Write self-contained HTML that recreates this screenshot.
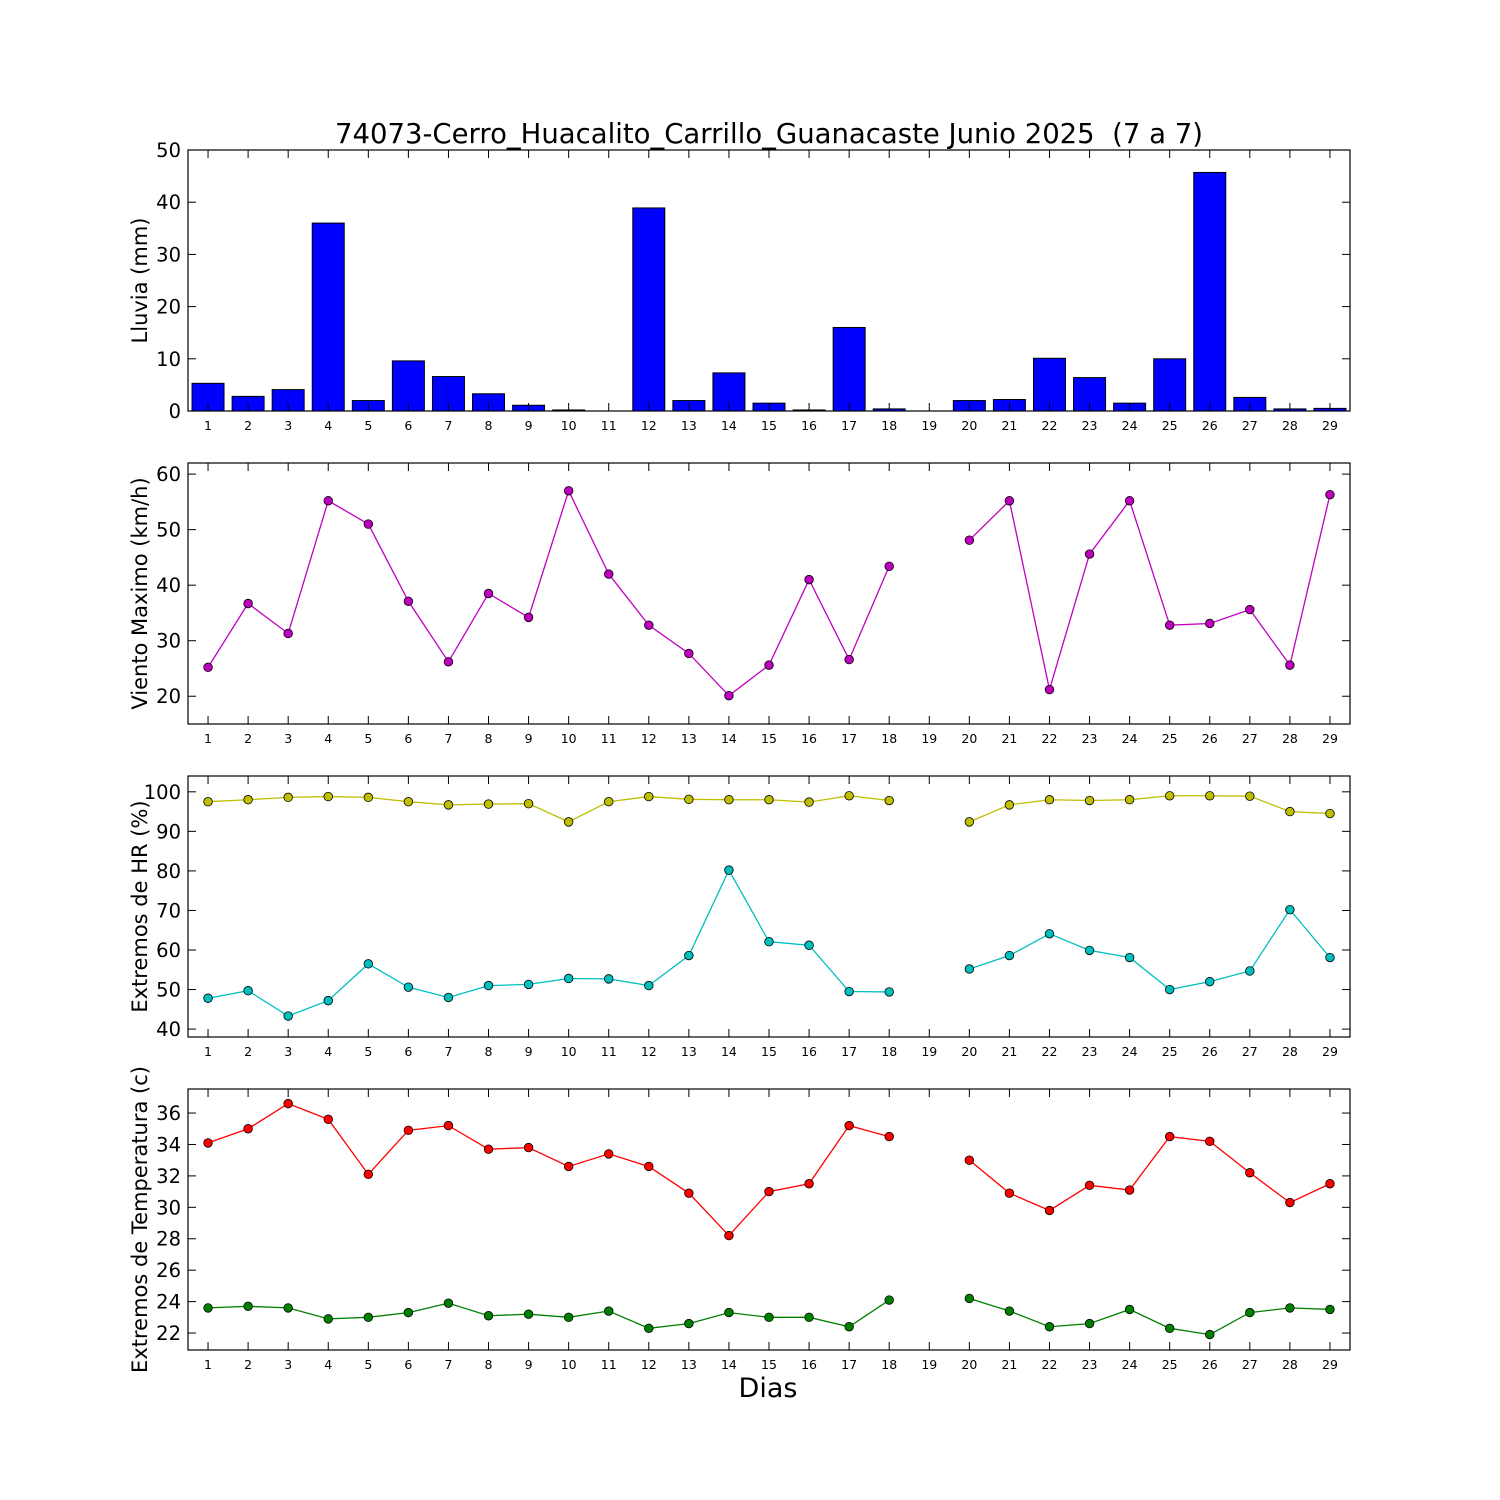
<!DOCTYPE html>
<html><head><meta charset="utf-8"><style>
body{margin:0;background:#fff}
svg{display:block;font-family:"DejaVu Sans","Liberation Sans",sans-serif}
text{white-space:pre}
</style></head><body>
<svg id="chart" width="1500" height="1500" viewBox="0 0 1500 1500" xmlns="http://www.w3.org/2000/svg">
<rect width="1500" height="1500" fill="#fff"/>
<text x="769" y="143" font-size="27.5" text-anchor="middle" xml:space="preserve">74073-Cerro_Huacalito_Carrillo_Guanacaste Junio 2025  (7 a 7)</text>
<text x="768" y="1397" font-size="27" text-anchor="middle">Dias</text>
</svg>
<script>
const days = [1,2,3,4,5,6,7,8,9,10,11,12,13,14,15,16,17,18,19,20,21,22,23,24,25,26,27,28,29];
const rain = [5.3,2.8,4.1,36,2,9.6,6.6,3.3,1.1,0.2,0,38.9,2,7.3,1.5,0.2,16,0.4,null,2,2.2,10.1,6.4,1.5,10,45.7,2.6,0.4,0.5];
const wind = [25.2,36.7,31.3,55.2,51,37.1,26.2,38.5,34.2,57,42,32.8,27.7,20.1,25.6,41,26.6,43.4,null,48.1,55.2,21.2,45.6,55.2,32.8,33.1,35.6,25.6,56.3];
const hrMax = [97.5,98,98.6,98.8,98.6,97.5,96.7,96.9,97,92.4,97.5,98.8,98.1,98,98,97.4,99,97.8,null,92.4,96.7,98,97.8,98,99,99,98.9,95,94.5];
const hrMin = [47.8,49.7,43.3,47.2,56.5,50.6,48,51,51.3,52.8,52.7,51,58.6,80.2,62.1,61.2,49.5,49.4,null,55.2,58.6,64.1,59.9,58.1,50,52,54.7,70.2,58.1];
const tMax = [34.1,35.0,36.6,35.6,32.1,34.9,35.2,33.7,33.8,32.6,33.4,32.6,30.9,28.2,31.0,31.5,35.2,34.5,null,33.0,30.9,29.8,31.4,31.1,34.5,34.2,32.2,30.3,31.5];
const tMin = [23.6,23.7,23.6,22.9,23.0,23.3,23.9,23.1,23.2,23.0,23.4,22.3,22.6,23.3,23.0,23.0,22.4,24.1,null,24.2,23.4,22.4,22.6,23.5,22.3,21.9,23.3,23.6,23.5];
const rainTicks = [0,10,20,30,40,50];
const windTicks = [20,30,40,50,60];
const hrTicks = [40,50,60,70,80,90,100];
const tTicks = [22,24,26,28,30,32,34,36];

const NS='http://www.w3.org/2000/svg';
const svg=document.getElementById('chart');
function mk(tag,attrs,parent){const e=document.createElementNS(NS,tag);for(const k in attrs)e.setAttribute(k,attrs[k]);(parent||svg).appendChild(e);return e;}
const X0=188,X1=1350;
function xs(d){return X0+(d-0.5)*(X1-X0)/29;}

function panel(name,top,ymin,ymax,ticks,label){
  const bot=top+261;
  const ys=v=>bot-(v-ymin)*(bot-top)/(ymax-ymin);
  const g=mk('g',{});
  
  
  return {g,ys,top,bot,ticks,label,name};
}
function frame(p){
  const {g,ys,top,bot}=p;
  const r=mk('rect',{x:X0,y:top,width:X1-X0,height:bot-top,fill:'none',stroke:'#000','stroke-width':1.2},g);
  
  
  p.ticks.forEach(t=>{
    const y=ys(t);
    mk('line',{x1:X0,x2:X0+8,y1:y,y2:y,stroke:'#000'},g);
    mk('line',{x1:X1,x2:X1-8,y1:y,y2:y,stroke:'#000'},g);
    const tx=mk('text',{x:X0-7,y:y+7,'font-size':19.5,'text-anchor':'end'},g);
    tx.textContent=t;
    
    
  });
  days.forEach(d=>{
    const x=xs(d);
    mk('line',{x1:x,x2:x,y1:bot,y2:bot-8,stroke:'#000'},g);
    mk('line',{x1:x,x2:x,y1:top,y2:top+8,stroke:'#000'},g);
    const tx=mk('text',{x:x,y:bot+19,'font-size':12.5,'text-anchor':'middle'},g);
    tx.textContent=d;
    
    
  });
  const cy=(top+bot)/2;
  const lb=mk('text',{x:0,y:0,'font-size':21,'text-anchor':'middle',transform:`translate(147,${cy}) rotate(-90)`},g);
  lb.textContent=p.label;
  
  
}
function series(p,vals,color,sname){
  const {g,ys}=p;
  let seg=[];
  const segs=[];
  vals.forEach((v,i)=>{if(v===null){if(seg.length)segs.push(seg);seg=[];}else seg.push([xs(days[i]),ys(v)]);});
  if(seg.length)segs.push(seg);
  segs.forEach(s=>{
    const pl=mk('polyline',{points:s.map(q=>q.join(',')).join(' '),fill:'none',stroke:color,'stroke-width':1.3},g);
    
    
  });
  vals.forEach((v,i)=>{
    if(v===null)return;
    const c=mk('circle',{cx:xs(days[i]),cy:ys(v),r:4.3,fill:color,stroke:'#000','stroke-width':0.8},g);
    
    
  });
}

const p1=panel('rain',150,0,50,rainTicks,'Lluvia (mm)');
rain.forEach((v,i)=>{
  if(v===null)return;
  const x=xs(days[i])-16,y=p1.ys(v);
  const b=mk('rect',{x:x,y:y,width:32,height:p1.bot-y,fill:'#0000ff',stroke:'#000','stroke-width':1},p1.g);
  
  
});
frame(p1);

const p2=panel('wind',463,15,62,windTicks,'Viento Maximo (km/h)');
series(p2,wind,'#bf00bf','wind');
frame(p2);

const p3=panel('humidity',776,38,104,hrTicks,'Extremos de HR (%)');
series(p3,hrMax,'#bfbf00','hr-max');
series(p3,hrMin,'#00bfbf','hr-min');
frame(p3);

const p4=panel('temperature',1089,20.92,37.53,tTicks,'Extremos de Temperatura (c)');
series(p4,tMax,'#ff0000','temp-max');
series(p4,tMin,'#008000','temp-min');
frame(p4);
</script>
</body></html>
